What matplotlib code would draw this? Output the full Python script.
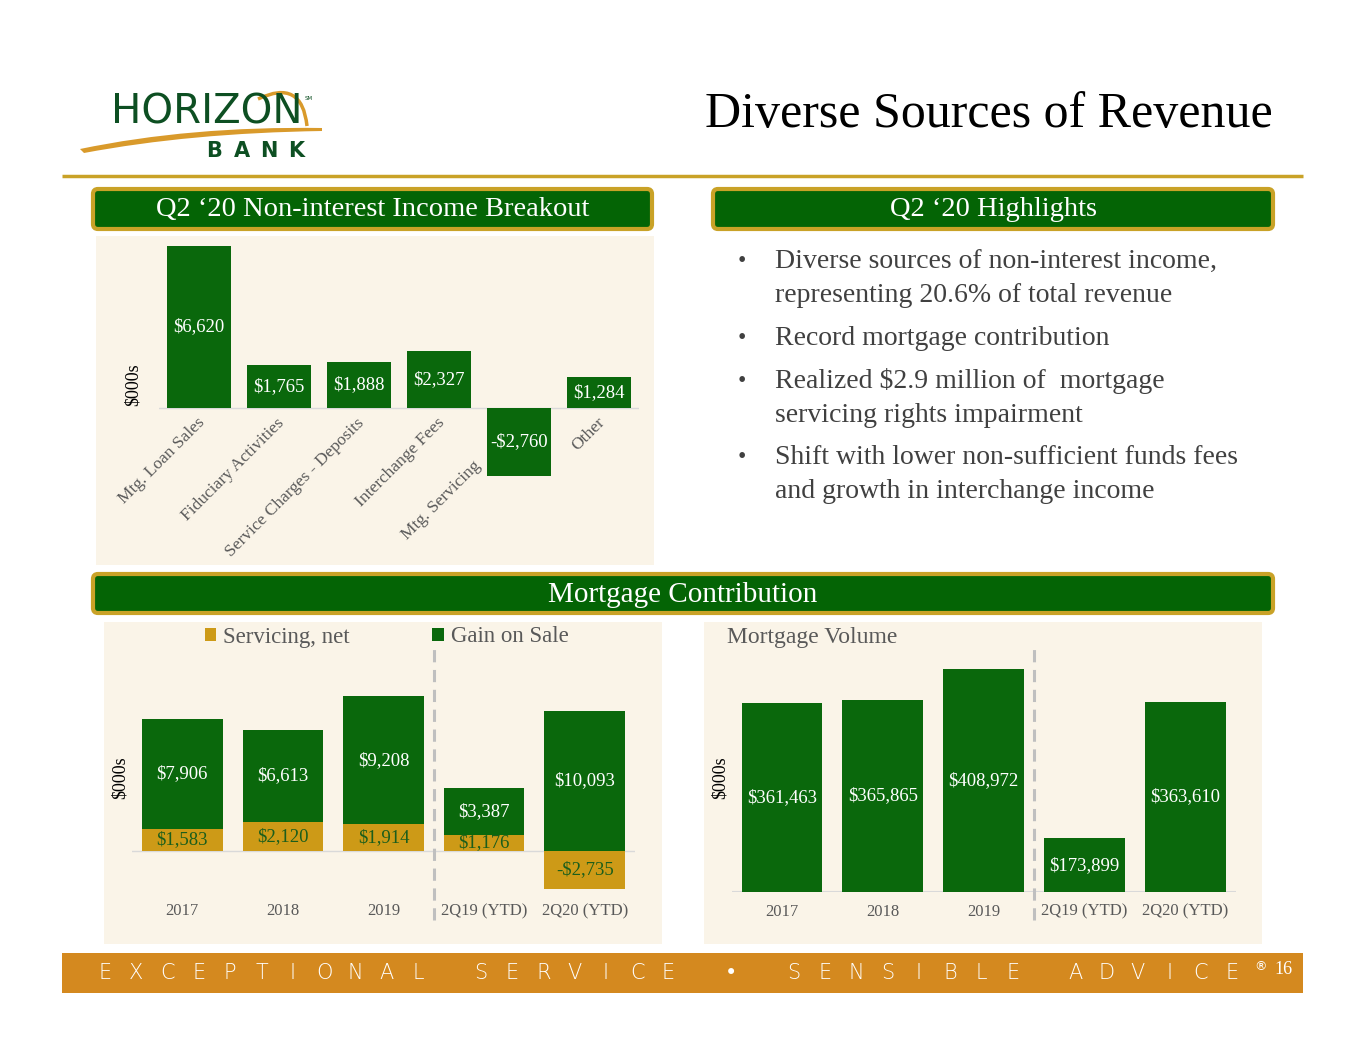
import matplotlib
matplotlib.use("Agg")
import matplotlib.pyplot as plt
from matplotlib.patches import FancyBboxPatch, Rectangle, PathPatch
from matplotlib.path import Path

# ---- data ----
income_categories = ["Mtg. Loan Sales", "Fiduciary Activities", "Service Charges - Deposits",
                     "Interchange Fees", "Mtg. Servicing", "Other"]
income_values = [6620, 1765, 1888, 2327, -2760, 1284]

periods = ["2017", "2018", "2019", "2Q19 (YTD)", "2Q20 (YTD)"]
gain_on_sale = [7906, 6613, 9208, 3387, 10093]
servicing_net = [1583, 2120, 1914, 1176, -2735]
mortgage_volume = [361463, 365865, 408972, 173899, 363610]

highlights = [
    ["Diverse sources of non-interest income,", "representing 20.6% of total revenue"],
    ["Record mortgage contribution"],
    ["Realized $2.9 million of  mortgage", "servicing rights impairment"],
    ["Shift with lower non-sufficient funds fees", "and growth in interchange income"],
]

footer_text = "EXCEPTIONAL SERVICE \u2022 SENSIBLE ADVICE"

# ---- style ----
W, H = 1365, 1055
GREEN = "#0a680c"
HEAD_GREEN = "#046405"
GOLD = "#cd9a17"
BORDER_GOLD = "#c9a227"
CREAM = "#faf4e8"
GRAY = "#595959"
TEXT = "#404040"
ORANGE = "#d4891f"
SERIF = "Liberation Serif"

plt.rcParams["font.family"] = [SERIF, "DejaVu Sans"]

fig = plt.figure(figsize=(W / 100, H / 100), dpi=100)
fig.patch.set_facecolor("white")

bg = fig.add_axes([0, 0, 1, 1])
bg.set_xlim(0, W)
bg.set_ylim(H, 0)
bg.axis("off")


def add_px_axes(x0, y0, x1, y1):
    ax = fig.add_axes([x0 / W, 1 - y1 / H, (x1 - x0) / W, (y1 - y0) / H])
    ax.set_facecolor("none")
    for s in ax.spines.values():
        s.set_visible(False)
    ax.tick_params(length=0)
    ax.set_yticks([])
    return ax


def header_box(x0, y0, x1, y1, label, size):
    bg.add_patch(FancyBboxPatch((x0, y0), x1 - x0, y1 - y0,
                                boxstyle="round,pad=0,rounding_size=5",
                                facecolor=HEAD_GREEN, edgecolor=BORDER_GOLD, lw=3))
    bg.text((x0 + x1) / 2, (y0 + y1) / 2 + 1, label, color="white", fontsize=size,
            ha="center", va="center")


def money(v):
    return f"-${abs(v):,}" if v < 0 else f"${v:,}"


# ---- logo ----
swoosh = Path([(80, 149), (190, 126), (322, 128), (322, 131), (190, 133), (84, 153), (80, 149)],
              [Path.MOVETO, Path.CURVE3, Path.CURVE3, Path.LINETO, Path.CURVE3, Path.CURVE3,
               Path.CLOSEPOLY])
bg.add_patch(PathPatch(swoosh, facecolor="#d99a2b", edgecolor="none"))
arc = Path([(258, 99), (302, 78), (307, 126)], [Path.MOVETO, Path.CURVE3, Path.CURVE3])
bg.add_patch(PathPatch(arc, facecolor="none", edgecolor="#d99a2b", lw=2.5))
bg.text(207, 113, "HORIZON", family="DejaVu Sans", fontsize=29, color="#0d4f22",
        ha="center", va="center")
bg.text(309, 99, "SM", family="DejaVu Sans", fontsize=4, color="#0d4f22", ha="center", va="center")
for i, ch in enumerate("BANK"):
    bg.text(214 + i * 27.5, 151, ch, family="DejaVu Sans", fontsize=15, fontweight="bold",
            color="#0d4f22", ha="center", va="center")

# ---- title ----
bg.text(1273, 115, "Diverse Sources of Revenue", fontsize=36, color="black",
        ha="right", va="center")
bg.plot([62, 1303], [176, 176], color=BORDER_GOLD, lw=2.5, solid_capstyle="butt")

# ---- panels and headers ----
bg.add_patch(Rectangle((96, 236), 558, 329, facecolor=CREAM, edgecolor="none"))
bg.add_patch(Rectangle((104, 622), 558, 322, facecolor=CREAM, edgecolor="none"))
bg.add_patch(Rectangle((704, 622), 558, 322, facecolor=CREAM, edgecolor="none"))
header_box(93, 189, 652, 229, "Q2 \u201820 Non-interest Income Breakout", 20.5)
header_box(713, 189, 1273, 229, "Q2 \u201820 Highlights", 20.5)
header_box(93, 574, 1273, 613, "Mortgage Contribution", 21)

# ---- highlights ----
y = 262
for item in highlights:
    bg.text(742, y, "\u2022", fontsize=17, color=TEXT, ha="center", va="center")
    for line in item:
        bg.text(775, y, line, fontsize=20, color=TEXT, ha="left", va="center")
        y += 33.5
    y += 9.5

# ---- Q2 '20 non-interest income breakout ----
ax1 = add_px_axes(159, 240, 639, 480)
x1 = list(range(len(income_categories)))
ax1.bar(x1, income_values, width=0.8, color=GREEN)
ax1.axhline(0, color="#d9d9d9", lw=1, zorder=0)
ax1.set_xlim(-0.5, 5.5)
ax1.set_ylim(-2942, 6865)
ax1.set_xticks([])
for i, v in enumerate(income_values):
    ax1.text(i, v / 2, money(v), color="white", fontsize=13.5, ha="center", va="center")
for i, (cat, v) in enumerate(zip(income_categories, income_values)):
    if v < 0:
        ax1.text(i - 0.58, -2050, cat, rotation=45, rotation_mode="anchor", ha="right",
                 va="top", fontsize=12.5, color=GRAY)
    else:
        ax1.text(i - 0.03, -280, cat, rotation=45, rotation_mode="anchor", ha="right",
                 va="top", fontsize=12.5, color=GRAY)
bg.text(133, 385, "$000s", rotation=90, fontsize=13, ha="center", va="center", color="black")

# ---- mortgage contribution: stacked ----
ax2 = add_px_axes(132, 650, 635, 895)
x2 = list(range(len(periods)))
serv_bars = ax2.bar(x2, servicing_net, width=0.8, color=GOLD, label="Servicing, net")
gain_bottom = [max(s, 0) for s in servicing_net]
gain_bars = ax2.bar(x2, gain_on_sale, width=0.8, bottom=gain_bottom, color=GREEN,
                    label="Gain on Sale")
ax2.axhline(0, color="#d9d9d9", lw=1, zorder=0)
ax2.set_xlim(-0.5, 4.5)
ax2.set_ylim(-3165, 14460)
ax2.set_xticks(x2)
ax2.set_xticklabels(periods, fontsize=12, color=GRAY)
ax2.tick_params(axis="x", pad=6)
for i in x2:
    g, s = gain_on_sale[i], servicing_net[i]
    ax2.text(i, gain_bottom[i] + g / 2, money(g), color="white", fontsize=13.5,
             ha="center", va="center")
    ax2.text(i, s / 2, money(s), color="#1b5e1b", fontsize=13.5, ha="center", va="center")
ax2.plot([2.5, 2.5], [-0.102, 1.02], transform=ax2.get_xaxis_transform(), clip_on=False,
         color="#bfbfbf", lw=2.2, linestyle=(0, (4, 2.5)))
fig.legend(handles=[serv_bars, gain_bars], loc="center left",
           bbox_to_anchor=(205 / W, 1 - 637 / H), ncol=2, frameon=False,
           fontsize=16.5, labelcolor=GRAY, handlelength=0.5, handleheight=0.5,
           handletextpad=0.3, columnspacing=3.6, borderpad=0, borderaxespad=0)
bg.text(120, 778, "$000s", rotation=90, fontsize=13, ha="center", va="center", color="black")

# ---- mortgage volume ----
ax3 = add_px_axes(731.6, 650, 1235.6, 891.7)
vol_floor = 100000
ax3.bar(x2, mortgage_volume, width=0.8, color=GREEN)
ax3.axhline(vol_floor, color="#d9d9d9", lw=1.5, zorder=0)
ax3.set_xlim(-0.5, 4.5)
ax3.set_ylim(vol_floor, 435700)
ax3.set_xticks(x2)
ax3.set_xticklabels(periods, fontsize=12, color=GRAY)
ax3.tick_params(axis="x", pad=8.5)
for i, v in enumerate(mortgage_volume):
    ax3.text(i, (v + vol_floor) / 2, money(v), color="white", fontsize=13.5,
             ha="center", va="center")
ax3.plot([2.5, 2.5], [-0.117, 1.033], transform=ax3.get_xaxis_transform(), clip_on=False,
         color="#bfbfbf", lw=2.2, linestyle=(0, (4, 2.5)))
bg.text(727, 637, "Mortgage Volume", fontsize=17, color=GRAY, ha="left", va="center")
bg.text(720, 778, "$000s", rotation=90, fontsize=13, ha="center", va="center", color="black")

# ---- footer ----
bg.add_patch(Rectangle((62, 953), 1241, 40, facecolor=ORANGE, edgecolor="none"))
for i, ch in enumerate(footer_text):
    if ch == " ":
        continue
    weight = "normal" if ch == "\u2022" else "light"
    bg.text(105 + i * 31.3, 973, ch, family="DejaVu Sans", fontsize=15, color="white",
            ha="center", va="center", fontweight=weight)
bg.text(1261, 967, "\u00ae", family="DejaVu Sans", fontsize=9, color="white",
        ha="center", va="center")
bg.text(1283, 970, "16", fontsize=13, color="white", ha="center", va="center")

fig.savefig("out.png", dpi=100)
